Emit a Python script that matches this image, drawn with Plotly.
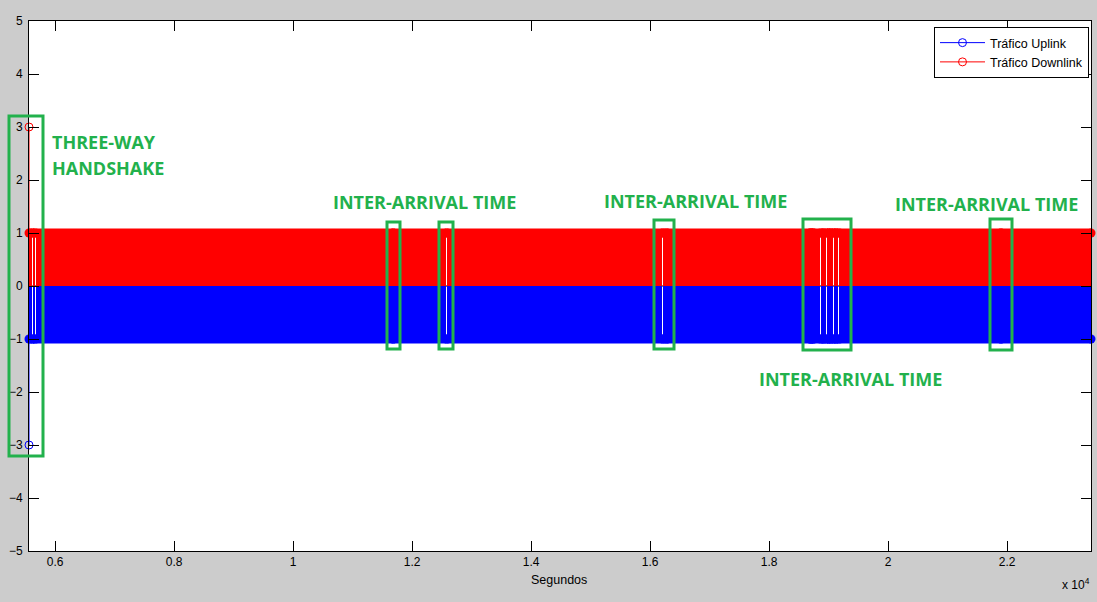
import plotly.graph_objects as go

# ---------------- data (seconds) ----------------
t_first = 5560
t_last = 23410
handshake_time = [5560]
handshake_up = [-3]
handshake_down = [3]

# packet bursts (dense stems of value +/-1), gaps between them are the inter-arrival times
burst_start = [5560, 5628, 5672, 11686, 12591, 16223, 16287, 18693, 18722, 18750,
               18885, 18911, 18973, 19007, 19044, 19091, 19131, 19182, 21901]
burst_end = [5611, 5650, 11676, 12574, 16206, 16275, 18685, 18710, 18738, 18860,
             18899, 18953, 18995, 19032, 19079, 19119, 19162, 21891, 23410]
up_value = -1
down_value = 1

x_tickvals = [6000, 8000, 10000, 12000, 14000, 16000, 18000, 20000, 22000]
x_ticktext = ["0.6", "0.8", "1", "1.2", "1.4", "1.6", "1.8", "2", "2.2"]
y_tickvals = [-5, -4, -3, -2, -1, 0, 1, 2, 3, 4, 5]

BLUE = "#0000ff"
RED = "#ff0000"
GREEN = "#22B14C"

# ---------------- geometry helpers (pixel -> paper) ----------------
L, R, T, B = 29, 1091, 21, 551
def px(x):
    return (x - L) / (R - L)
def py(y):
    return (B - y) / (B - T)

fig = go.Figure()

centers = [(s + e) / 2 for s, e in zip(burst_start, burst_end)]
widths = [e - s for s, e in zip(burst_start, burst_end)]

# stems drawn as dense bars
fig.add_trace(go.Bar(x=centers, y=[down_value] * len(centers), base=0, width=widths,
                     marker=dict(color=RED, line=dict(width=0)), showlegend=False,
                     hoverinfo="skip"))
fig.add_trace(go.Bar(x=centers, y=[up_value] * len(centers), base=0, width=widths,
                     marker=dict(color=BLUE, line=dict(width=0)), showlegend=False,
                     hoverinfo="skip"))

# dense stem-head markers along +/-1
def seg(vals):
    xs, ys = [], []
    for s, e in zip(burst_start, burst_end):
        xs += [s, e, None]
        ys += [vals, vals, None]
    return xs, ys

for val, col in ((down_value, RED), (up_value, BLUE)):
    xs, ys = seg(val)
    fig.add_trace(go.Scatter(x=xs, y=ys, mode="lines+markers",
                             line=dict(color=col, width=9),
                             marker=dict(symbol="circle", size=9, color=col),
                             cliponaxis=False, showlegend=False, hoverinfo="skip"))

# handshake stems
for vals, col in ((handshake_up, BLUE), (handshake_down, RED)):
    xs, ys = [], []
    for t, v in zip(handshake_time, vals):
        xs += [t, t, None]
        ys += [0, v, None]
    fig.add_trace(go.Scatter(x=xs, y=ys, mode="lines", line=dict(color=col, width=1),
                             showlegend=False, hoverinfo="skip", cliponaxis=False))

fig.add_trace(go.Scatter(x=handshake_time, y=handshake_up, mode="lines+markers",
                         name="Tráfico Uplink", line=dict(color=BLUE, width=1),
                         marker=dict(symbol="circle-open", size=8, color=BLUE, line=dict(width=1)),
                         cliponaxis=False))
fig.add_trace(go.Scatter(x=handshake_time, y=handshake_down, mode="lines+markers",
                         name="Tráfico Downlink", line=dict(color=RED, width=1),
                         marker=dict(symbol="circle-open", size=8, color=RED, line=dict(width=1)),
                         cliponaxis=False))

# baseline
shapes = [dict(type="line", xref="x", yref="y", x0=t_first, x1=t_last, y0=0, y1=0,
               line=dict(color="black", width=1), layer="below")]

# green highlight boxes (pixel coords of the reference annotations)
boxes = [(9, 116, 43, 456), (387, 222, 400, 349), (439, 222, 453, 349),
         (654, 220, 674, 349), (803, 219, 851, 350), (990, 219, 1012, 350)]
for x0, y0, x1, y1 in boxes:
    shapes.append(dict(type="rect", xref="paper", yref="paper",
                       x0=px(x0), x1=px(x1), y0=py(y1), y1=py(y0),
                       line=dict(color=GREEN, width=3), fillcolor="rgba(0,0,0,0)",
                       layer="above"))

gfont = dict(family="Open Sans", size=18, color=GREEN, weight="bold")
annotations = [
    dict(text="THREE-WAY", x=px(50), y=py(142), xanchor="left", yanchor="middle"),
    dict(text="HANDSHAKE", x=px(50), y=py(168), xanchor="left", yanchor="middle"),
    dict(text="INTER-ARRIVAL TIME", x=px(424.5), y=py(202), xanchor="center", yanchor="middle"),
    dict(text="INTER-ARRIVAL TIME", x=px(695), y=py(201), xanchor="center", yanchor="middle"),
    dict(text="INTER-ARRIVAL TIME", x=px(850.5), y=py(379), xanchor="center", yanchor="middle"),
    dict(text="INTER-ARRIVAL TIME", x=px(986.5), y=py(204), xanchor="center", yanchor="middle"),
]
for a in annotations:
    a.update(xref="paper", yref="paper", showarrow=False, font=gfont)

annotations.append(dict(text="Segundos", x=px(559), y=py(580), xref="paper", yref="paper",
                        showarrow=False, xanchor="center", yanchor="middle",
                        font=dict(family="Liberation Sans", size=12.5, color="black")))
annotations.append(dict(text="x 10<sup>4</sup>", x=px(1092), y=py(584), xref="paper", yref="paper",
                        showarrow=False, xanchor="right", yanchor="middle",
                        font=dict(family="Liberation Sans", size=12, color="black")))

axis_common = dict(showline=True, linecolor="black", linewidth=1, mirror="ticks",
                   ticks="inside", ticklen=10, tickcolor="black", tickwidth=1,
                   showgrid=False, zeroline=False,
                   tickfont=dict(family="Liberation Sans", size=12, color="black"))

fig.update_layout(
    width=1097, height=602,
    margin=dict(l=L, r=1097 - R, t=T, b=602 - B),
    paper_bgcolor="#cccccc", plot_bgcolor="white",
    barmode="overlay", bargap=0,
    xaxis=dict(range=[t_first, t_last], tickvals=x_tickvals, ticktext=x_ticktext, **axis_common),
    yaxis=dict(range=[-5, 5], tickvals=y_tickvals, ticklabelstandoff=3, **axis_common),
    legend=dict(x=px(1089), y=py(27), xanchor="right", yanchor="top",
                bgcolor="white", bordercolor="black", borderwidth=1,
                font=dict(family="Liberation Sans", size=12.5, color="black"),
                tracegroupgap=0, itemwidth=45),
    shapes=shapes, annotations=annotations,
)

fig.write_html("out.html", config={"displayModeBar": False},
               post_script="document.body.style.margin='0';document.body.style.overflow='hidden';")
